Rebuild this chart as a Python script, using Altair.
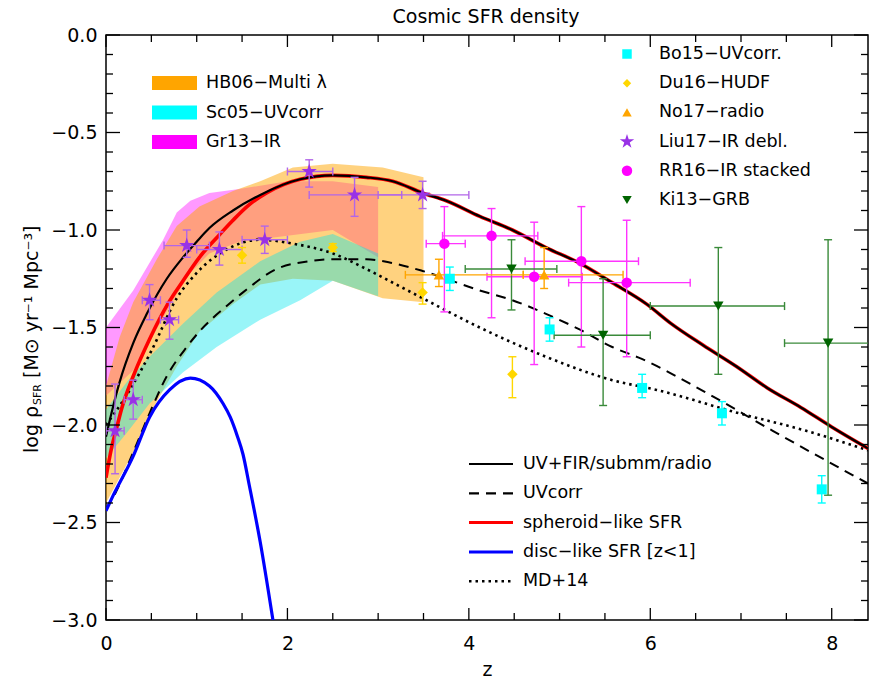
import altair as alt
import pandas as pd

FONT = "DejaVu Sans"
W, H = 762, 585
ZMAX = 8.4

# ---------------- bands (hatched regions in the original) ----------------
hb06_z  = [0.0, 0.15, 0.30, 0.56, 0.78, 1.03, 1.40, 1.70, 2.06, 2.50, 3.05, 3.50]
hb06_hi = [-1.80, -1.55, -1.37, -1.15, -0.98, -0.88, -0.80, -0.75, -0.68, -0.66, -0.68, -0.73]
hb06_lo = [-2.40, -2.27, -2.14, -1.88, -1.70, -1.52, -1.38, -1.28, -1.25, -1.26, -1.35, -1.37]

sc05_z  = [0.0, 0.23, 0.48, 0.85, 1.22, 1.70, 2.14, 2.50, 3.00]
sc05_hi = [-1.92, -1.78, -1.65, -1.48, -1.32, -1.16, -1.06, -1.02, -1.12]
sc05_lo = [-2.17, -2.04, -1.89, -1.73, -1.60, -1.46, -1.36, -1.26, -1.34]

gr13_z  = [0.0, 0.30, 0.63, 0.78, 0.93, 1.14, 1.47, 2.00, 2.50, 3.00]
gr13_hi = [-1.50, -1.31, -1.05, -0.91, -0.85, -0.81, -0.79, -0.75, -0.75, -0.78]
gr13_lo = [-1.85, -1.72, -1.45, -1.33, -1.22, -1.12, -1.06, -1.03, -1.00, -1.14]

# ---------------- model / fit curves ----------------
tot_z = [0.0, 0.06, 0.15, 0.30, 0.45, 0.67, 0.85, 1.00, 1.14, 1.40, 1.70, 2.14, 2.50, 2.87,
         3.16, 3.49, 3.75, 4.12, 4.48, 4.85, 5.22, 5.58, 5.96, 6.23, 6.58, 6.95, 7.29, 7.66, 8.00, 8.40]
tot_y = [-2.06, -1.94, -1.78, -1.58, -1.43, -1.25, -1.14, -1.06, -0.99, -0.90, -0.82, -0.74, -0.72, -0.73,
         -0.75, -0.81, -0.85, -0.93, -1.00, -1.09, -1.17, -1.27, -1.38, -1.48, -1.59, -1.70, -1.81, -1.91, -2.01, -2.12]

sph_z = [0.0, 0.06, 0.12, 0.17, 0.30, 0.48, 0.68, 0.85, 1.03, 1.22, 1.40, 1.58, 1.77, 2.14, 2.50, 2.87,
         3.16, 3.49, 3.75, 4.12, 4.48, 4.85, 5.22, 5.58, 5.96, 6.23, 6.58, 6.95, 7.29, 7.66, 8.00, 8.40]
sph_y = [-2.27, -2.12, -2.01, -1.92, -1.75, -1.56, -1.38, -1.26, -1.14, -1.04, -0.95, -0.87, -0.81, -0.74, -0.72, -0.73,
         -0.75, -0.81, -0.85, -0.93, -1.00, -1.09, -1.17, -1.27, -1.38, -1.48, -1.59, -1.70, -1.81, -1.91, -2.01, -2.12]

disc_z = [0.0, 0.06, 0.30, 0.48, 0.70, 0.93, 1.14, 1.29, 1.37, 1.45, 1.51, 1.58, 1.70, 1.84, 1.88]
disc_y = [-2.44, -2.38, -2.16, -1.96, -1.82, -1.76, -1.80, -1.89, -1.96, -2.06, -2.15, -2.31, -2.60, -3.00, -3.12]

uvc_z = [0.0, 0.08, 0.30, 0.48, 0.67, 0.89, 1.03, 1.18, 1.33, 1.51, 1.88, 2.25, 2.50, 2.87,
         3.16, 3.49, 4.12, 4.48, 4.85, 5.22, 5.58, 5.90, 6.60, 7.35, 8.40]
uvc_y = [-2.43, -2.37, -2.14, -1.94, -1.75, -1.60, -1.52, -1.45, -1.39, -1.32, -1.20, -1.16, -1.15, -1.15,
         -1.17, -1.21, -1.31, -1.36, -1.43, -1.51, -1.60, -1.66, -1.83, -2.03, -2.30]

md14_z = [0.0, 0.25, 0.50, 0.78, 1.00, 1.33, 1.70, 2.06, 2.50, 2.87, 3.16, 3.49, 4.12, 4.85,
          5.58, 6.07, 6.98, 7.72, 8.40]
md14_y = [-2.00, -1.83, -1.62, -1.35, -1.22, -1.10, -1.05, -1.07, -1.12, -1.20, -1.27, -1.35, -1.50, -1.65,
          -1.77, -1.82, -1.94, -2.03, -2.13]

# ---------------- data points ----------------
bo15_z   = [3.79, 4.89, 5.91, 6.79, 7.89]
bo15_y   = [-1.25, -1.51, -1.81, -1.94, -2.33]
bo15_ylo = [-1.31, -1.57, -1.86, -2.00, -2.40]
bo15_yhi = [-1.19, -1.45, -1.74, -1.88, -2.26]

du16_z   = [1.50, 2.50, 3.49, 4.48]
du16_y   = [-1.13, -1.09, -1.32, -1.74]
du16_ylo = [-1.17, -1.11, -1.38, -1.86]
du16_yhi = [-1.09, -1.07, -1.27, -1.65]

no17_z   = [3.67, 4.83]
no17_y   = [-1.23, -1.23]
no17_ylo = [-1.29, -1.30]
no17_yhi = [-1.15, -1.09]
no17_zlo = [3.30, 4.60]
no17_zhi = [4.60, 5.70]

liu17_z   = [0.10, 0.30, 0.48, 0.70, 0.89, 1.25, 1.75, 2.24, 2.74, 3.49]
liu17_y   = [-2.03, -1.87, -1.36, -1.46, -1.08, -1.10, -1.05, -0.70, -0.82, -0.82]
liu17_ylo = [-2.25, -1.97, -1.46, -1.56, -1.14, -1.18, -1.12, -0.78, -0.93, -0.89]
liu17_yhi = [-1.79, -1.77, -1.28, -1.37, -1.00, -1.01, -0.98, -0.64, -0.73, -0.75]
liu17_zlo = [0.00, 0.20, 0.40, 0.60, 0.64, 1.00, 1.50, 2.00, 2.24, 3.00]
liu17_zhi = [0.20, 0.40, 0.60, 0.80, 1.14, 1.50, 2.00, 2.50, 3.26, 4.00]

rr16_z   = [3.73, 4.25, 4.72, 5.24, 5.74]
rr16_y   = [-1.07, -1.03, -1.24, -1.16, -1.27]
rr16_ylo = [-1.42, -1.45, -1.69, -1.60, -1.65]
rr16_yhi = [-0.88, -0.89, -0.96, -0.88, -0.95]
rr16_zlo = [3.53, 3.71, 4.20, 4.62, 5.10]
rr16_zhi = [3.96, 4.76, 5.25, 5.87, 6.44]

ki13_z   = [4.47, 5.48, 6.75, 7.96]
ki13_y   = [-1.20, -1.54, -1.39, -1.58]
ki13_ylo = [-1.41, -1.90, -1.74, -2.36]
ki13_yhi = [-1.05, -1.25, -1.09, -1.05]
ki13_zlo = [3.96, 4.94, 6.00, 7.48]
ki13_zhi = [4.97, 6.00, 7.48, 8.60]

# ---------------- axes ----------------
x_major = [0, 2, 4, 6, 8]
x_minor = [0.5, 1.0, 1.5, 2.5, 3.0, 3.5, 4.5, 5.0, 5.5, 6.5, 7.0, 7.5]
y_major = [0.0, -0.5, -1.0, -1.5, -2.0, -2.5, -3.0]
y_minor = [round(-0.1 * i, 1) for i in range(1, 30) if i % 5 != 0]

STAR = ("M0,-1L0.2245,-0.309L0.9511,-0.309L0.3633,0.118L0.5878,0.809L0,0.382"
        "L-0.5878,0.809L-0.3633,0.118L-0.9511,-0.309L-0.2245,-0.309Z")

xs = alt.Scale(domain=[0, ZMAX], nice=False, zero=False)
ys = alt.Scale(domain=[-3.0, 0.0], nice=False, zero=False)

XAX = alt.Axis(values=x_major, ticks=False, domain=False, grid=False, format="d",
               labelFont=FONT, labelFontSize=19, labelColor="black", labelPadding=14,
               labelFlush=False, labelOverlap=False,
               title="z", titleFont=FONT, titleFontSize=19, titleFontWeight="normal",
               titleColor="black", titlePadding=7)
YAX = alt.Axis(values=y_major, ticks=False, domain=False, grid=False, format=".1f",
               labelFont=FONT, labelFontSize=19, labelColor="black", labelPadding=9,
               labelOverlap=False, title="")


def X(f="z"):
    return alt.X(f"{f}:Q", scale=xs, axis=XAX)


def Y(f="y"):
    return alt.Y(f"{f}:Q", scale=ys, axis=YAX)


one = pd.DataFrame({"a": [0]})
layers = []


# bands
def band(z, lo, hi, color, op):
    d = pd.DataFrame({"z": z, "lo": lo, "hi": hi})
    return alt.Chart(d).mark_area(color=color, opacity=op, clip=True).encode(
        x=X(), y=Y("hi"), y2=alt.Y2("lo"))


layers.append(band(gr13_z, gr13_lo, gr13_hi, "#ff00ff", 0.40))
layers.append(band(hb06_z, hb06_lo, hb06_hi, "#ffa500", 0.50))
layers.append(band(sc05_z, sc05_lo, sc05_hi, "#00e5ee", 0.40))


# curves
def curve(z, y, color, width, dash=None):
    d = pd.DataFrame({"z": z, "y": y})
    kw = dict(color=color, strokeWidth=width, clip=True, interpolate="monotone")
    if dash:
        kw["strokeDash"] = dash
    return alt.Chart(d).mark_line(**kw).encode(x=X(), y=Y())


layers.append(curve(md14_z, md14_y, "black", 2.6, [2.5, 4]))
layers.append(curve(uvc_z, uvc_y, "black", 2.0, [10, 7]))
layers.append(curve(disc_z, disc_y, "#0000ff", 3.2))
layers.append(curve(sph_z, sph_y, "#ff0000", 3.6))
layers.append(curve(tot_z, tot_y, "black", 2.2))


# error bars
def errbars(z, y, ylo, yhi, zlo, zhi, color, width=1.4, cap=8, op=1.0):
    d = pd.DataFrame({"z": z, "y": y, "ylo": ylo, "yhi": yhi})
    out = [alt.Chart(d).mark_rule(color=color, strokeWidth=width, opacity=op, clip=True).encode(
        x=X(), y=Y("ylo"), y2=alt.Y2("yhi"))]
    for f in ["ylo", "yhi"]:
        out.append(alt.Chart(d).mark_tick(orient="horizontal", size=cap, thickness=width,
                                          color=color, opacity=op, clip=True).encode(x=X(), y=Y(f)))
    if zlo is not None:
        d = d.assign(zlo=zlo, zhi=zhi)
        out.append(alt.Chart(d).mark_rule(color=color, strokeWidth=width, opacity=op, clip=True).encode(
            x=X("zlo"), x2=alt.X2("zhi"), y=Y()))
        for f in ["zlo", "zhi"]:
            out.append(alt.Chart(d).mark_tick(orient="vertical", size=cap, thickness=width,
                                              color=color, opacity=op, clip=True).encode(x=X(f), y=Y()))
    return out


def points(z, y, shape, color, size):
    d = pd.DataFrame({"z": z, "y": y})
    return alt.Chart(d).mark_point(shape=shape, filled=True, color=color, size=size,
                                   opacity=1, strokeWidth=0, clip=True).encode(x=X(), y=Y())


layers += errbars(liu17_z, liu17_y, liu17_ylo, liu17_yhi, liu17_zlo, liu17_zhi, "#b266e8")
layers += errbars(rr16_z, rr16_y, rr16_ylo, rr16_yhi, rr16_zlo, rr16_zhi, "#ff33ff")
layers += errbars(ki13_z, ki13_y, ki13_ylo, ki13_yhi, ki13_zlo, ki13_zhi, "#3a8a3a")
layers += errbars(no17_z, no17_y, no17_ylo, no17_yhi, no17_zlo, no17_zhi, "#ffa500")
layers += errbars(bo15_z, bo15_y, bo15_ylo, bo15_yhi, None, None, "#00ffff")
layers += errbars(du16_z, du16_y, du16_ylo, du16_yhi, None, None, "#ffd700")

layers.append(points(liu17_z, liu17_y, STAR, "#9932e6", 260))
layers.append(points(rr16_z, rr16_y, "circle", "#ff00ff", 110))
layers.append(points(ki13_z, ki13_y, "triangle-down", "#006400", 110))
layers.append(points(no17_z, no17_y, "triangle-up", "#ffa500", 110))
layers.append(points(bo15_z, bo15_y, "square", "#00ffff", 100))
layers.append(points(du16_z, du16_y, "diamond", "#ffd700", 110))

# inward ticks on all four sides
for vals, L in [(x_major, 12), (x_minor, 7)]:
    d = pd.DataFrame({"z": vals})
    layers.append(alt.Chart(d).mark_rule(color="black", strokeWidth=1.3).encode(
        x=X(), y=alt.value(H), y2=alt.value(H - L)))
    layers.append(alt.Chart(d).mark_rule(color="black", strokeWidth=1.3).encode(
        x=X(), y=alt.value(0), y2=alt.value(L)))
for vals, L in [(y_major, 14), (y_minor, 7)]:
    d = pd.DataFrame({"y": vals})
    layers.append(alt.Chart(d).mark_rule(color="black", strokeWidth=1.3).encode(
        y=Y(), x=alt.value(0), x2=alt.value(L)))
    layers.append(alt.Chart(d).mark_rule(color="black", strokeWidth=1.3).encode(
        y=Y(), x=alt.value(W), x2=alt.value(W - L)))


def text(s, x, y, size=17.5, angle=None, align="left"):
    kw = dict(text=s, font=FONT, fontSize=size, color="black", align=align, baseline="middle")
    if angle is not None:
        kw["angle"] = angle
    return alt.Chart(one).mark_text(**kw).encode(x=alt.value(x), y=alt.value(y))


# band legend (top-left)
band_names = ["HB06\u2212Multi \u03bb", "Sc05\u2212UVcorr", "Gr13\u2212IR"]
band_cols = ["#ffa500", "#00ffff", "#ff00ff"]
for i, (nm, c) in enumerate(zip(band_names, band_cols)):
    yc = 48 + 29.5 * i
    layers.append(alt.Chart(one).mark_rect(color=c).encode(
        x=alt.value(46), x2=alt.value(91), y=alt.value(yc - 7), y2=alt.value(yc + 7)))
    layers.append(text(nm, 100, yc))

# symbol legend (top-right)
sym_names = ["Bo15\u2212UVcorr.", "Du16\u2212HUDF", "No17\u2212radio",
             "Liu17\u2212IR debl.", "RR16\u2212IR stacked", "Ki13\u2212GRB"]
sym_shapes = ["square", "diamond", "triangle-up", STAR, "circle", "triangle-down"]
sym_cols = ["#00ffff", "#ffd700", "#ffa500", "#9932e6", "#ff00ff", "#006400"]
sym_sizes = [90, 70, 90, 230, 110, 90]
for i in range(6):
    yc = 19 + 29.2 * i
    layers.append(alt.Chart(one).mark_point(shape=sym_shapes[i], filled=True, color=sym_cols[i],
                                            size=sym_sizes[i], opacity=1, strokeWidth=0).encode(
        x=alt.value(521), y=alt.value(yc)))
    layers.append(text(sym_names[i], 553, yc))

# line legend (bottom-right)
line_names = ["UV+FIR/submm/radio", "UVcorr", "spheroid\u2212like SFR",
              "disc\u2212like SFR [z<1]", "MD+14"]
line_cols = ["black", "black", "#ff0000", "#0000ff", "black"]
line_w = [2.2, 2.2, 3.0, 3.0, 2.4]
line_dash = [None, [10, 7], None, None, [2.5, 4]]
for i in range(5):
    yc = 429 + 29.3 * i
    kw = dict(color=line_cols[i], strokeWidth=line_w[i])
    if line_dash[i]:
        kw["strokeDash"] = line_dash[i]
    layers.append(alt.Chart(one).mark_rule(**kw).encode(
        x=alt.value(363), x2=alt.value(407), y=alt.value(yc)))
    layers.append(text(line_names[i], 417, yc))

# y-axis title built from pieces (subscript SFR)
YT_X = -74
YT_Y0 = 418
layers.append(text("log \u03c1", YT_X, YT_Y0, size=19, angle=270))
layers.append(text("SFR", YT_X + 6, YT_Y0 - 48, size=11, angle=270))
layers.append(text("[M\u2299 yr\u207b\u00b9 Mpc\u207b\u00b3]", YT_X, YT_Y0 - 75, size=19, angle=270))

# title
layers.append(text("Cosmic SFR density", W / 2 - 1, -18, size=19, align="center"))

chart = alt.layer(*layers).properties(
    width=W, height=H,
    autosize=alt.AutoSizeParams(type="none"),
    padding={"left": 106, "top": 35, "right": 2, "bottom": 61},
).configure_view(stroke="black", strokeWidth=1.5)

chart.save("out.html", embed_options={"renderer": "svg", "actions": False})
